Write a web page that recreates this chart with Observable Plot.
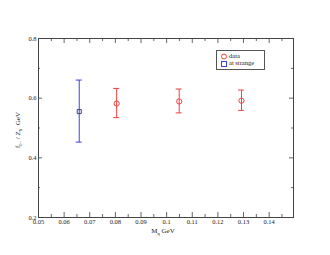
<!DOCTYPE html>
<html><head><meta charset="utf-8">
<script src="https://cdn.jsdelivr.net/npm/d3@7"></script>
<script src="https://cdn.jsdelivr.net/npm/@observablehq/plot@0.6"></script>
<style>
body{margin:0;background:#fff;}
#wrap{position:relative;width:330px;height:255px;}
#legend{position:absolute;left:216px;top:50px;width:47px;height:18px;border:1px solid #555;background:#fff;font:6.5px "Liberation Serif",serif;color:#222;}
#legend div{position:absolute;left:12px;white-space:nowrap;}
</style>
</head><body>
<div id="wrap"><div id="legend"></div></div>
<script>
const dataX = [0.0805, 0.1049, 0.1292];
const dataY = [0.582, 0.589, 0.5915];
const dataErr = [0.049, 0.040, 0.034];
const strangeX = [0.0659];
const strangeY = [0.555];
const strangeErr = [0.104];
const xTicks = [0.05,0.06,0.07,0.08,0.09,0.1,0.11,0.12,0.13,0.14];
const xMinor = [0.055,0.065,0.075,0.085,0.095,0.105,0.115,0.125,0.135,0.145];
const yTicks = [0.2,0.4,0.6,0.8];
const yMinor = [0.3,0.5,0.7];
const red = "#f04040", blue = "#4040f0";

const data = dataX.map((x,i)=>({x, y:dataY[i], lo:dataY[i]-dataErr[i], hi:dataY[i]+dataErr[i]}));
const strange = strangeX.map((x,i)=>({x, y:strangeY[i], lo:strangeY[i]-strangeErr[i], hi:strangeY[i]+strangeErr[i]}));

const plot = Plot.plot({
  width:330, height:255,
  marginLeft:38, marginRight:37, marginTop:38, marginBottom:38,
  style:{fontFamily:"Liberation Serif, serif", fontSize:6.5, color:"#222", background:"#fff"},
  x:{domain:[0.05,0.1495]},
  y:{domain:[0.2,0.8]},
  marks:[
    Plot.axisX(xTicks,{anchor:"bottom", tickSize:0, tickPadding:2, tickFormat:d=>String(+d.toFixed(2)), label:null}),
    Plot.axisY(yTicks,{anchor:"left", tickSize:0, tickPadding:2, tickFormat:d=>d.toFixed(1), label:null}),
    Plot.tickX(xTicks,{x:d=>d, insetTop:174, stroke:"#666"}),
    Plot.tickX(xTicks,{x:d=>d, insetBottom:174, stroke:"#666"}),
    Plot.tickX(xMinor,{x:d=>d, insetTop:176, stroke:"#666"}),
    Plot.tickX(xMinor,{x:d=>d, insetBottom:176, stroke:"#666"}),
    Plot.tickY(yTicks,{y:d=>d, insetRight:251, stroke:"#666"}),
    Plot.tickY(yTicks,{y:d=>d, insetLeft:251, stroke:"#666"}),
    Plot.tickY(yMinor,{y:d=>d, insetRight:253, stroke:"#666"}),
    Plot.tickY(yMinor,{y:d=>d, insetLeft:253, stroke:"#666"}),
    Plot.frame({stroke:"#444"}),
    Plot.ruleX(data,{x:"x", y1:"lo", y2:"hi", stroke:red}),
    Plot.ruleX(strange,{x:"x", y1:"lo", y2:"hi", stroke:blue}),
    Plot.dot(data,{x:"x", y:"y", r:2.6, stroke:red, fill:"none", strokeWidth:1}),
    Plot.dot(strange,{x:"x", y:"y", symbol:"square", r:2.3, stroke:"#404080", fill:"none", strokeWidth:1})
  ]
});
document.getElementById("wrap").prepend(plot);

// error-bar caps via the Plot scales
const sx = plot.scale("x"), sy = plot.scale("y");
const svg = d3.select(plot);
function caps(arr,color){
  arr.forEach(d=>{
    [d.lo,d.hi].forEach(v=>{
      const px = sx.apply(d.x), py = sy.apply(v);
      svg.append("line").attr("x1",px-3).attr("x2",px+3).attr("y1",py).attr("y2",py).attr("stroke",color);
    });
  });
}
caps(data,red); caps(strange,blue);

// axis titles with subscripts
const xl = svg.append("text").attr("x",163).attr("y",233).attr("text-anchor","middle")
  .attr("font-family","Liberation Serif, serif").attr("font-size",7).attr("fill","#222");
xl.append("tspan").text("M");
xl.append("tspan").attr("font-size",4.5).attr("dy",1.5).text("q");
xl.append("tspan").attr("dy",-1.5).text(" GeV");
const yl = svg.append("text").attr("transform","translate(20,130) rotate(-90)").attr("text-anchor","middle")
  .attr("font-family","Liberation Serif, serif").attr("font-size",7).attr("fill","#222");
yl.append("tspan").text("f");
yl.append("tspan").attr("font-size",4.5).attr("dy",1.5).text("0+");
yl.append("tspan").attr("dy",-1.5).text(" / Z");
yl.append("tspan").attr("font-size",4.5).attr("dy",1.5).text("S");
yl.append("tspan").attr("dy",-1.5).text("  GeV");

// legend
const leg = document.getElementById("legend");
leg.innerHTML = `<svg width="12" height="18" style="position:absolute;left:0;top:0">
<circle cx="7" cy="5.5" r="2.5" fill="none" stroke="${red}"/>
<rect x="4.5" y="10.5" width="5" height="5" fill="none" stroke="${blue}"/></svg>
<div style="top:1px">data</div><div style="top:8px">at strange</div>`;
</script>
</body></html>
